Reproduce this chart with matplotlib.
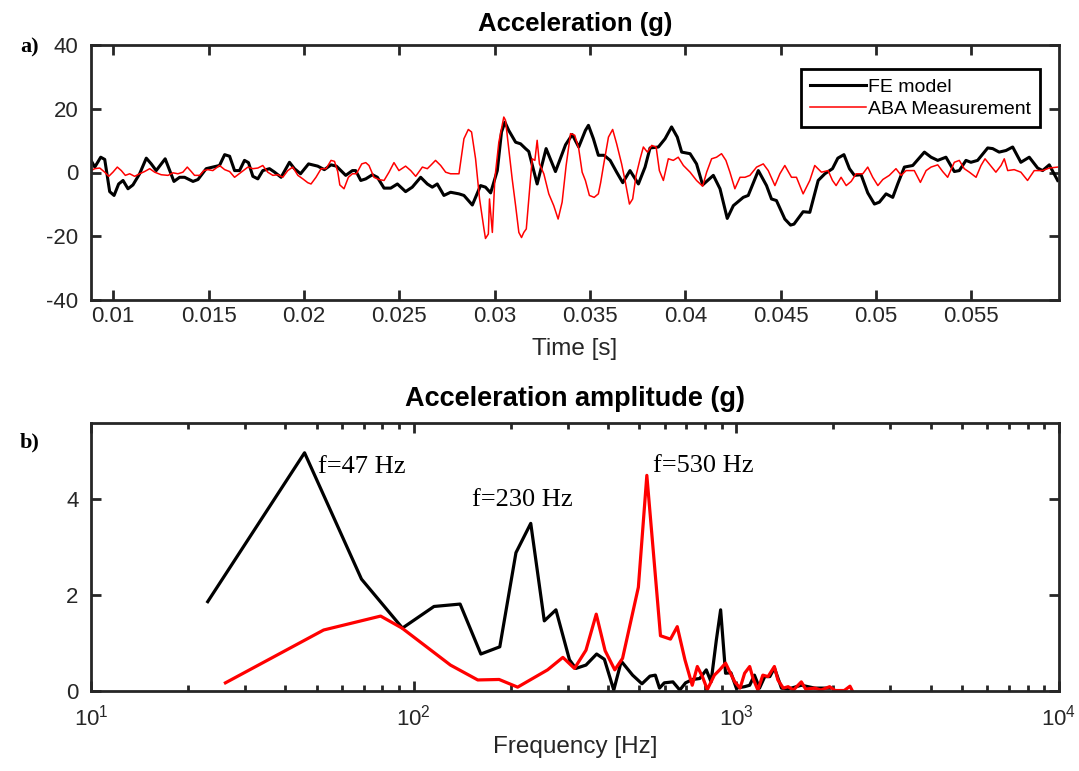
import matplotlib
matplotlib.use('Agg')
import matplotlib.pyplot as plt
import numpy as np
from matplotlib.ticker import LogLocator, NullFormatter

# time signal (t in ms, acceleration in g)
fe_t = [8.83, 9.03, 9.34, 9.55, 9.81, 10.04, 10.28, 10.51, 10.77, 11.03, 11.38, 11.73, 11.99,
        12.25, 12.72, 13.18, 13.48, 13.74, 14.18, 14.44, 14.87, 15.22, 15.57, 15.84, 16.10,
        16.36, 16.62, 16.88, 17.09, 17.32, 17.58, 17.84, 18.19, 18.46, 18.80, 19.24, 19.50,
        19.82, 20.24, 20.72, 21.07, 21.42, 21.70, 22.19, 22.54, 22.71, 22.98, 23.24, 23.59,
        23.85, 24.20, 24.55, 24.90, 25.33, 25.68, 26.12, 26.47, 26.73, 26.99, 27.34, 27.69,
        28.13, 28.39, 28.83, 29.26, 29.52, 29.79, 30.14, 30.36, 30.54, 30.74, 31.10, 31.36,
        31.62, 31.79, 32.23, 32.70, 33.19, 33.72, 34.07, 34.41, 34.76, 34.92, 35.18, 35.44,
        35.74, 36.06, 36.40, 36.72, 37.10, 37.54, 37.89, 38.15, 38.59, 38.94, 39.28, 39.58,
        39.81, 40.25, 40.59, 40.91, 41.47, 41.82, 42.20, 42.52, 43.04, 43.30, 43.83, 44.26,
        44.52, 44.78, 45.22, 45.52, 45.70, 46.18, 46.53, 46.97, 47.32, 47.72, 48.00, 48.32,
        48.61, 48.87, 49.22, 49.57, 49.92, 50.18, 50.53, 50.88, 51.14, 51.49, 51.93, 52.54,
        52.89, 53.24, 53.67, 54.11, 54.37, 54.72, 54.98, 55.33, 55.86, 56.12, 56.46, 56.82,
        57.17, 57.60, 58.04, 58.48, 58.74, 59.09, 59.53]
fe_acc = [3.8, 1.7, 4.8, 4.1, -6.0, -7.2, -3.6, -2.5, -5.1, -3.9, -0.4, 4.5, 2.7,
          0.6, 4.3, -2.8, -1.5, -1.5, -2.8, -2.2, 1.2, 1.7, 2.2, 5.6, 5.1,
          0.6, 0.6, 3.8, 3.1, -1.2, -2.0, 0.6, 1.2, 0.1, -1.5, 3.2, 1.2,
          -0.4, 2.7, 2.0, 0.9, 2.4, 2.0, -0.9, 0.6, 0.6, -2.5, -2.0, -0.7,
          -1.5, -4.9, -4.9, -3.6, -6.0, -4.6, -1.5, -3.6, -4.6, -3.6, -7.2, -6.2,
          -6.7, -7.2, -10.2, -4.1, -4.6, -6.4, 0.6, 12.7, 15.8, 13.2, 9.5, 9.0,
          7.5, 6.6, -3.6, 7.5, 0.3, 8.7, 11.9, 8.0, 13.2, 14.8, 10.6, 5.4,
          5.4, 3.8, 0.1, -3.2, 0.6, -3.6, 1.7, 7.7, 8.0, 10.6, 14.3, 11.1,
          6.4, 5.9, 2.7, -3.9, -0.9, -5.1, -14.4, -10.4, -7.8, -7.2, 0.6, -4.1,
          -8.3, -8.8, -14.6, -16.5, -16.2, -12.3, -12.5, -2.5, -0.4, 1.2, 4.5, 5.6,
          1.2, -0.9, -0.7, -6.4, -9.9, -9.3, -6.7, -7.8, -3.6, 1.7, 2.2, 6.4,
          4.8, 3.8, 4.8, 0.3, 0.6, 3.8, 3.2, 3.8, 7.7, 7.5, 6.4, 6.9,
          8.0, 3.2, 4.8, 1.4, 0.6, 2.4, -2.5]

aba_t = [8.83, 9.03, 9.29, 9.55, 9.76, 9.98, 10.21, 10.42, 10.63, 10.86, 11.12, 11.38, 11.64,
         11.91, 12.17, 12.51, 12.87, 13.13, 13.39, 13.65, 13.88, 14.09, 14.26, 14.53, 14.75,
         14.96, 15.22, 15.57, 15.84, 16.10, 16.36, 16.71, 17.06, 17.32, 17.58, 17.84, 18.10,
         18.37, 18.63, 18.89, 19.15, 19.41, 19.68, 19.94, 20.20, 20.37, 20.63, 20.90, 21.16,
         21.42, 21.60, 21.77, 21.88, 22.10, 22.33, 22.54, 22.75, 23.03, 23.24, 23.41, 23.67,
         23.93, 24.20, 24.46, 24.72, 24.98, 25.33, 25.60, 25.86, 26.21, 26.47, 26.64, 26.90,
         27.17, 27.43, 27.69, 27.92, 28.13, 28.39, 28.62, 28.79, 29.00, 29.21, 29.44, 29.52,
         29.67, 29.73, 29.88, 30.01, 30.22, 30.48, 30.57, 30.74, 30.92, 31.10, 31.27, 31.41,
         31.53, 31.66, 31.79, 31.97, 32.11, 32.23, 32.35, 32.58, 32.84, 33.10, 33.33, 33.54,
         33.75, 33.98, 34.20, 34.41, 34.59, 34.76, 34.97, 35.22, 35.44, 35.56, 35.71, 35.97,
         36.19, 36.40, 36.66, 36.84, 37.07, 37.24, 37.42, 37.63, 37.80, 38.01, 38.24, 38.47,
         38.64, 38.85, 39.11, 39.37, 39.63, 39.90, 40.25, 40.59, 40.91, 41.12, 41.38, 41.64,
         41.90, 42.13, 42.34, 42.60, 42.87, 43.13, 43.39, 43.74, 44.09, 44.35, 44.70, 44.96,
         45.22, 45.57, 45.83, 46.18, 46.53, 46.79, 47.14, 47.49, 47.72, 47.91, 48.17, 48.44,
         48.70, 48.96, 49.31, 49.57, 49.83, 50.10, 50.36, 50.70, 51.05, 51.32, 51.58, 52.01,
         52.33, 52.63, 52.89, 53.24, 53.50, 53.76, 54.11, 54.37, 54.63, 54.90, 55.25, 55.51,
         55.72, 55.94, 56.29, 56.56, 56.73, 56.91, 57.25, 57.60, 57.95, 58.30, 58.74, 59.09,
         59.53]
aba_acc = [0.6, 1.2, 1.4, 0.1, -1.2, 0.1, 1.7, 0.6, -0.9, -0.4, -1.2, -0.4, 0.3,
           1.2, 0.1, -0.7, -0.9, -0.1, -0.4, 0.1, 1.7, 0.3, -0.9, -0.9, 0.6,
           0.9, 0.6, 2.2, 0.9, 0.3, -1.5, 0.1, 1.7, 1.2, 1.4, 2.2, 0.1,
           -0.9, -0.7, -1.5, 0.6, 1.7, -0.9, -2.0, -3.2, -3.6, -1.5, 1.2, 1.2,
           3.8, 3.5, 0.3, -3.9, -5.1, -1.5, -0.4, -0.4, 2.7, 3.1, 2.2, -1.5,
           -2.2, -2.5, 0.1, 3.1, 0.6, 2.0, 0.6, -1.2, 1.7, 1.2, 2.2, 3.8,
           2.2, 0.1, -0.4, -0.4, -0.4, 10.6, 13.5, 12.7, 4.3, -8.3, -17.7, -20.7,
           -19.3, -8.3, -18.8, -2.0, 9.5, 17.4, 16.4, 7.5, -2.0, -10.4, -18.8, -20.4,
           -18.8, -17.7, -8.3, 4.3, 3.8, 10.1, 2.7, -0.4, -6.7, -10.4, -14.6, -9.3,
           2.2, 12.2, 11.7, 7.5, 0.1, -2.5, -7.2, -7.8, -6.7, -3.2, 2.2, 11.1,
           13.5, 9.0, 2.7, -2.5, -9.9, -8.3, -0.9, 4.3, 8.0, 6.4, 8.5, 8.0,
           0.6, -2.5, 4.3, 3.8, 4.8, 2.2, 0.1, -2.5, -4.3, 0.1, 4.3, 4.8,
           5.9, 3.8, 0.1, -5.1, -1.5, -1.5, -0.9, 1.7, 2.7, 0.6, -4.1, -0.4,
           2.2, -1.5, -1.5, -6.7, -2.5, 2.2, 0.1, 0.6, -2.5, -4.1, -1.5, -4.1,
           -2.8, -0.4, -0.4, 1.7, -1.5, -4.1, -2.2, -0.9, 1.2, -0.9, 0.6, 0.6,
           -3.1, 0.6, 1.7, 2.4, 0.3, -1.5, 3.2, 3.8, 1.2, 0.1, -1.5, 2.2,
           4.3, 2.7, 0.1, 2.2, 4.3, 0.6, 0.9, 0.1, -2.5, 0.6, 0.6, 1.4,
           1.7]

# spectrum
fe_freq = [23.0, 45.9, 68.9, 92.3, 115.6, 139.3, 161.5, 184.9, 207.5, 230.6, 254, 276, 304,
           318, 342, 369, 390, 417, 440, 477, 510, 540, 561, 578, 598, 636, 668, 696, 732,
           770, 807, 835, 867, 894, 926, 962, 1000, 1061, 1100, 1138, 1180, 1225, 1270,
           1312, 1380, 1447, 1590, 1750, 1946]
fe_amp = [1.86, 4.96, 2.33, 1.31, 1.76, 1.81, 0.77, 0.92, 2.88, 3.49, 1.46, 1.69, 0.65,
          0.47, 0.54, 0.77, 0.66, 0.02, 0.62, 0.33, 0.15, 0.31, 0.33, 0.06, 0.17, 0.19, 0.02,
          0.17, 0.24, 0.26, 0.44, 0.19, 1.06, 1.69, 0.37, 0.38, 0.06, 0.09, 0.12, 0.33, 0.06,
          0.30, 0.30, 0.48, 0.06, 0.04, 0.12, 0.06, 0.06]
aba_freq = [26.1, 52.6, 79, 92, 130, 158, 184, 210, 260, 290, 315, 342, 368, 392, 420, 444,
            497, 528, 582, 625, 656, 693, 730, 757, 785, 813, 855, 888, 926, 954, 989, 1027,
            1061, 1100, 1127, 1166, 1208, 1254, 1312, 1345, 1398, 1447, 1503, 1590, 1640,
            1750, 1830, 1946, 2025, 2160, 2250, 2286]
aba_amp = [0.17, 1.27, 1.56, 1.31, 0.54, 0.23, 0.24, 0.08, 0.44, 0.70, 0.47, 0.85, 1.60,
           0.84, 0.44, 0.68, 2.16, 4.49, 1.15, 1.08, 1.34, 0.65, 0.12, 0.51, 0.30, 0.03, 0.33,
           0.44, 0.58, 0.40, 0.19, 0.06, 0.37, 0.51, 0.26, 0.02, 0.33, 0.30, 0.51, 0.23, 0.06,
           0.09, 0.02, 0.19, 0.04, 0.06, 0.02, 0.09, 0.01, 0.01, 0.10, 0.01]

peak_labels = ['f=47 Hz', 'f=230 Hz', 'f=530 Hz']
peak_pos = [(50.7, 4.67), (152, 3.98), (552, 4.69)]

plt.rcParams['font.family'] = ['Liberation Sans', 'DejaVu Sans']
plt.rcParams['axes.unicode_minus'] = False
plt.rcParams['mathtext.fontset'] = 'custom'
plt.rcParams['mathtext.rm'] = 'Liberation Sans'
plt.rcParams['mathtext.it'] = 'Liberation Sans:italic'
axcol = '#262626'
serif = ['Liberation Serif', 'DejaVu Serif']

fig = plt.figure(figsize=(10.79, 7.71), dpi=100)

def style(ax):
    for s in ax.spines.values():
        s.set_linewidth(2.0)
        s.set_color(axcol)
    ax.tick_params(which='both', direction='in', top=True, right=True,
                   colors=axcol, labelsize=16, width=2.0, pad=7)
    ax.tick_params(which='major', length=7)
    ax.tick_params(which='minor', length=4)

ax1 = fig.add_axes([91/1079, 1 - 300/771, 968/1079, 255/771])
ax1.plot(np.array(fe_t) / 1000, fe_acc, color='black', lw=2.2, label='FE model')
ax1.plot(np.array(aba_t) / 1000, aba_acc, color='red', lw=1.1, label='ABA Measurement')
ax1.set_xlim(0.00883, 0.0596)
ax1.set_ylim(-40, 40)
ax1.set_yticks([-40, -20, 0, 20, 40])
ax1.set_xticks([0.01, 0.015, 0.02, 0.025, 0.03, 0.035, 0.04, 0.045, 0.05, 0.055])
ax1.set_xticklabels(['0.01', '0.015', '0.02', '0.025', '0.03', '0.035', '0.04',
                     '0.045', '0.05', '0.055'])
style(ax1)
ax1.tick_params(axis='y', pad=9)
ax1.tick_params(axis='x', pad=4)
ax1.set_xlabel('Time [s]', fontsize=17.5, color=axcol, labelpad=8)
ax1.set_title('Acceleration (g)', fontsize=18.5, fontweight='bold', pad=10)
leg = ax1.legend(loc='upper right', bbox_to_anchor=(0.98, 0.905), fontsize=14,
                 fancybox=False, edgecolor='black', framealpha=1, handlelength=2.9,
                 handletextpad=0.1, borderpad=0.45, labelspacing=0.25, borderaxespad=0)
leg.get_frame().set_linewidth(2.0)

ax2 = fig.add_axes([91/1079, 1 - 691/771, 968/1079, 268/771])
ax2.plot(fe_freq, fe_amp, color='black', lw=2.3)
ax2.plot(aba_freq, aba_amp, color='red', lw=2.3)
ax2.set_xscale('log')
ax2.set_xlim(10, 10000)
ax2.set_ylim(0, 5.58)
ax2.set_yticks([0, 2, 4])
ax2.xaxis.set_minor_locator(LogLocator(base=10, subs=np.arange(2, 10), numticks=20))
ax2.xaxis.set_minor_formatter(NullFormatter())
style(ax2)
ax2.tick_params(axis='y', pad=9)
ax2.tick_params(axis='x', which='major', pad=10)
ax2.set_xlabel('Frequency [Hz]', fontsize=17.5, color=axcol, labelpad=4)
ax2.set_title('Acceleration amplitude (g)', fontsize=19.5, fontweight='bold', pad=12)
for lab, (px, py) in zip(peak_labels, peak_pos):
    ax2.text(px, py, lab, fontsize=19, family=serif, ha='left', va='center')

fig.text(20/1079, 1 - 47/771, 'a)', fontsize=16, fontweight='bold', family=serif,
         va='center')
fig.text(20/1079, 1 - 442/771, 'b)', fontsize=16, fontweight='bold', family=serif,
         va='center')

fig.savefig('out.png', dpi=100)
